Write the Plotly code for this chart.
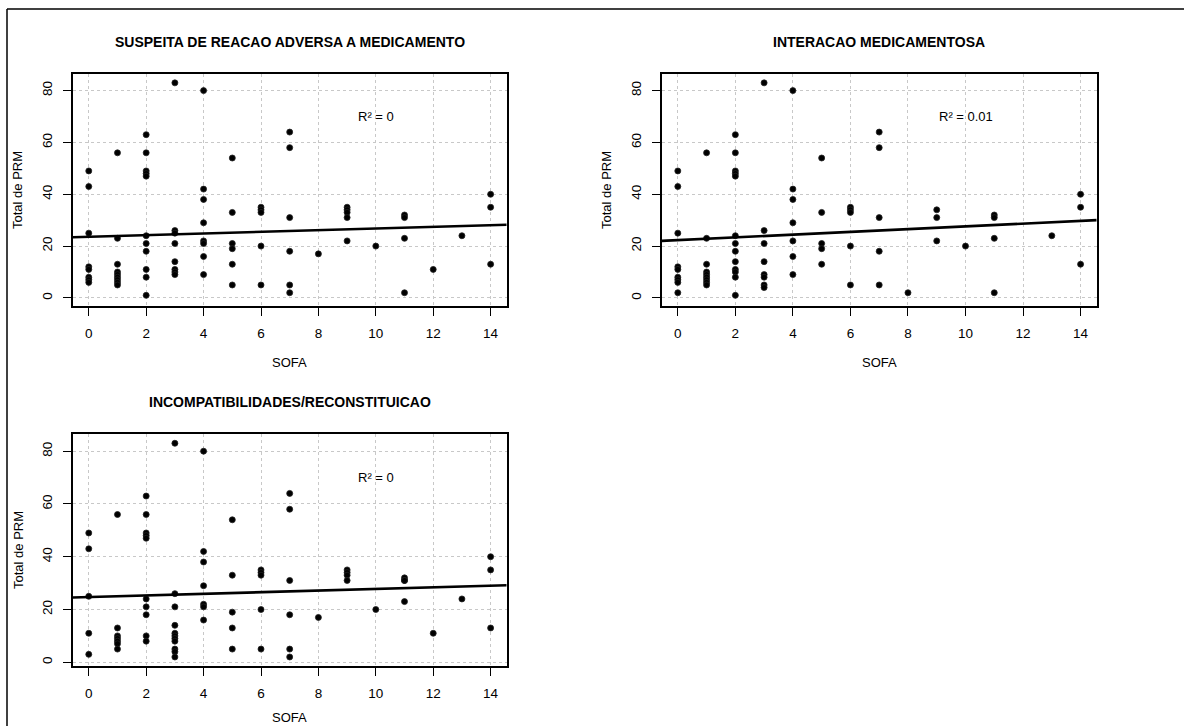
import plotly.graph_objects as go

W, H = 1184, 726

# ---------------- data ----------------
titles = ["SUSPEITA DE REACAO ADVERSA A MEDICAMENTO",
          "INTERACAO MEDICAMENTOSA",
          "INCOMPATIBILIDADES/RECONSTITUICAO"]
r2_labels = ["R² = 0", "R² = 0.01", "R² = 0"]

# panel 1: SUSPEITA DE REACAO ADVERSA A MEDICAMENTO
p1_sofa = [0]*8 + [1]*9 + [2]*11 + [3]*8 + [4]*8 + [5]*6 + [6]*5 + [7]*6 + [8] + [9]*5 + [10] + [11]*4 + [12] + [13] + [14]*3
p1_prm = [49, 43, 25, 12, 11, 8, 7, 6,
          56, 23, 13, 10, 9, 8, 7, 6, 5,
          63, 56, 49, 48, 47, 24, 21, 18, 11, 8, 1,
          83, 26, 25, 21, 14, 11, 10, 9,
          80, 42, 38, 29, 22, 21, 16, 9,
          54, 33, 21, 19, 13, 5,
          35, 34, 33, 20, 5,
          64, 58, 31, 18, 5, 2,
          17,
          35, 34, 33, 31, 22,
          20,
          32, 31, 23, 2,
          11,
          24,
          40, 35, 13]

# panel 2: INTERACAO MEDICAMENTOSA
p2_sofa = [0]*9 + [1]*9 + [2]*13 + [3]*8 + [4]*7 + [5]*5 + [6]*5 + [7]*5 + [8] + [9]*3 + [10] + [11]*4 + [13] + [14]*3
p2_prm = [49, 43, 25, 12, 11, 8, 7, 6, 2,
          56, 23, 13, 10, 9, 8, 7, 6, 5,
          63, 56, 49, 48, 47, 24, 21, 18, 14, 11, 10, 8, 1,
          83, 26, 21, 14, 9, 8, 5, 4,
          80, 42, 38, 29, 22, 16, 9,
          54, 33, 21, 19, 13,
          35, 34, 33, 20, 5,
          64, 58, 31, 18, 5,
          2,
          34, 31, 22,
          20,
          32, 31, 23, 2,
          24,
          40, 35, 13]

# panel 3: INCOMPATIBILIDADES/RECONSTITUICAO
p3_sofa = [0]*5 + [1]*7 + [2]*10 + [3]*11 + [4]*7 + [5]*5 + [6]*5 + [7]*6 + [8] + [9]*4 + [10] + [11]*4 + [12] + [13] + [14]*3
p3_prm = [49, 43, 25, 11, 3,
          56, 13, 10, 9, 8, 7, 5,
          63, 56, 49, 48, 47, 24, 21, 18, 10, 8,
          83, 26, 21, 14, 11, 10, 9, 8, 5, 4, 2,
          80, 42, 38, 29, 22, 21, 16,
          54, 33, 19, 13, 5,
          35, 34, 33, 20, 5,
          64, 58, 31, 18, 5, 2,
          17,
          35, 34, 33, 31,
          20,
          32, 31, 31, 23,
          11,
          24,
          40, 35, 13]

# fitted regression lines (intercept, slope)
fit_intercepts = [23.6, 22.3, 24.7]
fit_slopes = [0.32, 0.53, 0.31]

x_ticks = [0, 2, 4, 6, 8, 10, 12, 14]
y_ticks = [0, 20, 40, 60, 80]

# ---------------- layout geometry (pixels) ----------------
boxes = [  # left, right, top, bottom
    (72.7, 506.7, 74.3, 305.7),
    (661.7, 1096.7, 74.3, 305.7),
    (72.7, 506.7, 434.3, 665.7),
]
xlabel_offsets = [57, 57, 52]
xr = [-0.56, 14.56]
yranges = [[-3.0, 86.3], [-3.0, 86.3], [-1.3, 86.4]]

FONT = "Liberation Sans, Arial, sans-serif"

fig = go.Figure()
datasets = [(p1_sofa, p1_prm), (p2_sofa, p2_prm), (p3_sofa, p3_prm)]

layout = dict(
    width=W, height=H,
    margin=dict(l=0, r=0, t=0, b=0, pad=0),
    paper_bgcolor="white", plot_bgcolor="white",
    showlegend=False,
    font=dict(family=FONT, color="black", size=13),
)

annotations = []
shapes = []
for i, ((sx, sy), (l, r, t, b)) in enumerate(zip(datasets, boxes)):
    n = "" if i == 0 else str(i + 1)
    xa, ya = "x" + n, "y" + n
    fig.add_trace(go.Scatter(
        x=sx, y=sy, mode="markers", xaxis=xa, yaxis=ya,
        marker=dict(color="black", size=6, line=dict(color="#222", width=0.8)),
        cliponaxis=False))
    fig.add_trace(go.Scatter(
        x=xr, y=[fit_intercepts[i] + fit_slopes[i] * v for v in xr],
        mode="lines", xaxis=xa, yaxis=ya,
        line=dict(color="black", width=2.6)))
    common = dict(showline=True, mirror=True, linecolor="black", linewidth=1.6,
                  ticks="outside", ticklen=8, tickwidth=1, tickcolor="black",
                  showgrid=True, gridcolor="#c8c8c8", griddash="dot", gridwidth=1,
                  zeroline=False, tickfont=dict(family=FONT, size=13.5, color="black"))
    layout["xaxis" + n] = dict(common, domain=[l / W, r / W], range=xr,
                               tickvals=x_ticks, anchor=ya, ticklabelstandoff=6)
    layout["yaxis" + n] = dict(common, domain=[1 - b / H, 1 - t / H], range=yranges[i],
                               tickvals=y_ticks, anchor=xa, tickangle=-90,
                               ticklabelstandoff=6)
    cx = (l + r) / 2
    annotations.append(dict(text="<b>" + titles[i] + "</b>", x=cx / W, y=1 - (t - 32) / H,
                            xref="paper", yref="paper", showarrow=False,
                            xanchor="center", yanchor="middle",
                            font=dict(family=FONT, size=14, color="black")))
    annotations.append(dict(text="SOFA", x=cx / W, y=1 - (b + xlabel_offsets[i]) / H,
                            xref="paper", yref="paper", showarrow=False,
                            xanchor="center", yanchor="middle",
                            font=dict(family=FONT, size=13, color="black")))
    annotations.append(dict(text="Total de PRM", x=(l - 54.7) / W, y=1 - ((t + b) / 2) / H,
                            xref="paper", yref="paper", showarrow=False, textangle=-90,
                            xanchor="center", yanchor="middle",
                            font=dict(family=FONT, size=13, color="black")))
    annotations.append(dict(text=r2_labels[i], x=10, y=70, xref=xa, yref=ya,
                            showarrow=False, xanchor="center", yanchor="middle",
                            font=dict(family=FONT, size=13, color="black")))

# outer frame (left and top edges visible)
shapes.append(dict(type="line", xref="paper", yref="paper",
                   x0=7 / W, x1=7 / W, y0=1 - 9 / H, y1=0,
                   line=dict(color="black", width=1.5)))
shapes.append(dict(type="line", xref="paper", yref="paper",
                   x0=7 / W, x1=1, y0=1 - 9 / H, y1=1 - 9 / H,
                   line=dict(color="black", width=1.5)))

layout["annotations"] = annotations
layout["shapes"] = shapes
fig.update_layout(**layout)
fig.write_html("out.html")
